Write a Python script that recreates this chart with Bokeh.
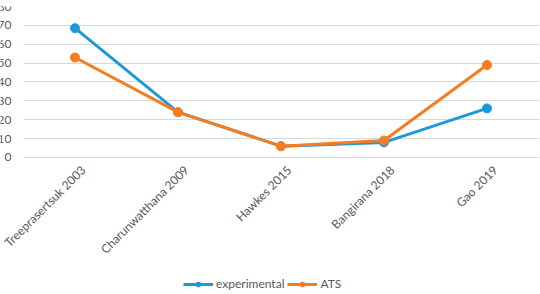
import math
from bokeh.plotting import figure
from bokeh.models import Legend, LegendItem, Range1d, FixedTicker, LinearAxis
from bokeh.core.properties import value
from bokeh.embed import file_html
from bokeh.resources import INLINE

studies = ["Treeprasertsuk 2003", "Charunwatthana 2009", "Hawkes 2015", "Bangirana 2018", "Gao 2019"]
experimental = [68.5, 24, 6, 8, 26]
ats = [53, 24, 6, 9, 49]
y_ticks = [0, 10, 20, 30, 40, 50, 60, 70, 80]

BLUE = "#1b9ad7"
ORANGE = "#f57d21"
FONT = "Lato"
GREY = "#595959"
GRID = "#d9d9d9"

xs = list(range(len(studies)))          # category slots
cat_left = -0.5                          # left edge of the first category slot
cat_right = len(studies) - 0.5           # right edge of the last slot
x_start = cat_left - 23 / 103            # room for the value labels left of the plot
x_end = cat_right + 1 / 103

p = figure(frame_width=539, frame_height=285,
           x_range=Range1d(x_start, x_end), y_range=Range1d(-71, 80),
           x_axis_location=None, y_axis_location=None,
           output_backend="svg", toolbar_location=None,
           min_border_left=0, min_border_right=1, min_border_top=6, min_border_bottom=3)
p.outline_line_color = None
p.background_fill_color = "white"

yaxis = LinearAxis(ticker=FixedTicker(ticks=y_ticks), fixed_location=cat_left,
                   axis_line_color=None, major_tick_line_color=None, minor_tick_line_color=None,
                   major_label_text_font=FONT, major_label_text_font_size="12px",
                   major_label_text_color=GREY, major_label_standoff=6)
p.add_layout(yaxis, "left")

p.xgrid.grid_line_color = None
grid = p.ygrid[0]
grid.ticker = FixedTicker(ticks=y_ticks)
grid.grid_line_color = GRID
grid.grid_line_width = 1
if "cross_bounds" in grid.properties():
    grid.cross_bounds = (cat_left, x_end)
else:
    grid.grid_line_color = None
    p.segment(x0=[cat_left] * len(y_ticks), x1=[x_end] * len(y_ticks), y0=y_ticks, y1=y_ticks,
              line_color=GRID, line_width=1)

# category labels, rotated 45 degrees, hanging below the zero line
p.text(x=xs, y=[0] * len(studies), text=studies, angle=math.pi / 4,
       text_align="right", text_baseline="top", x_offset=3, y_offset=5,
       text_font=value(FONT), text_font_size=value("12px"), text_color=GREY)

l1 = p.line(xs, experimental, line_color=BLUE, line_width=3)
s1 = p.scatter(xs, experimental, size=9, fill_color=BLUE, line_color=BLUE)
l2 = p.line(xs, ats, line_color=ORANGE, line_width=3)
s2 = p.scatter(xs, ats, size=9, fill_color=ORANGE, line_color=ORANGE)

legend = Legend(items=[LegendItem(label="experimental", renderers=[l1, s1]),
                       LegendItem(label="ATS", renderers=[l2, s2])],
                orientation="horizontal", location=(183, 0),
                label_text_font=FONT, label_text_font_size="12px", label_text_color=GREY,
                glyph_width=30, glyph_height=12, spacing=3, padding=0, margin=0,
                label_standoff=3, border_line_color=None, background_fill_alpha=0)
p.add_layout(legend, "center")

open("out.html", "w").write(file_html(p, INLINE))
